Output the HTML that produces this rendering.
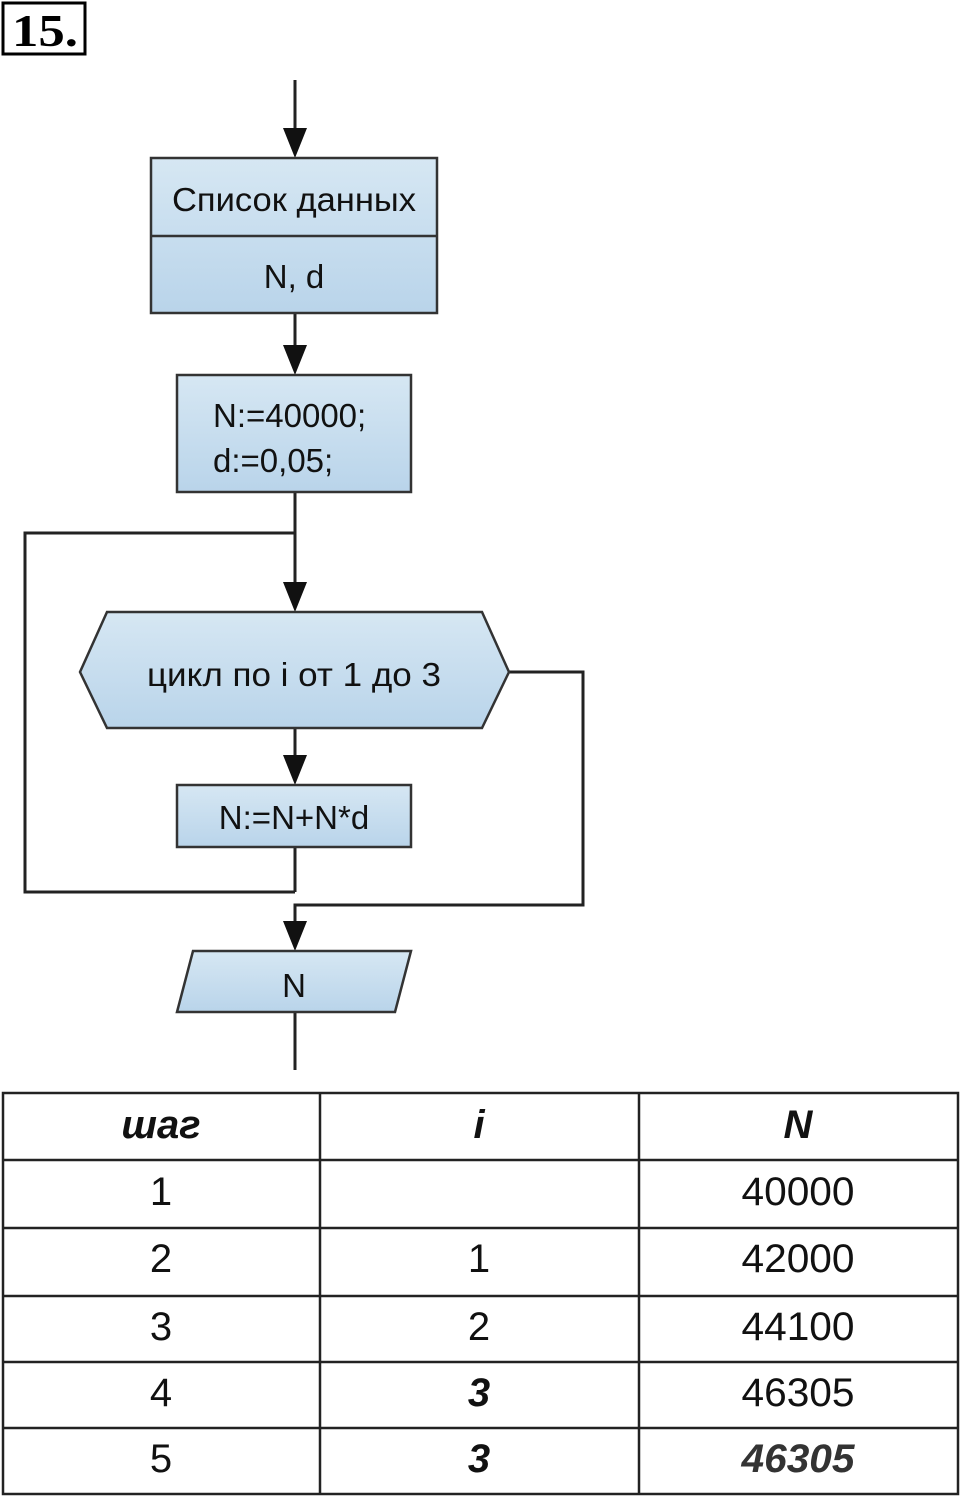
<!DOCTYPE html>
<html><head><meta charset="utf-8"><style>
html,body{margin:0;padding:0;background:#fff;width:960px;height:1496px;overflow:hidden}
svg{display:block}
</style></head><body>
<svg width="960" height="1496" viewBox="0 0 960 1496" xmlns="http://www.w3.org/2000/svg">
<defs>
<linearGradient id="g" x1="0" y1="0" x2="0" y2="1">
<stop offset="0" stop-color="#d6e7f3"/><stop offset="1" stop-color="#b9d4ea"/>
</linearGradient>
</defs>
<rect x="3" y="3" width="82" height="51" fill="#fff" stroke="#000" stroke-width="3"/>
<text x="12" y="46" font-family="Liberation Serif, serif" font-weight="bold" font-size="46" textLength="66" lengthAdjust="spacingAndGlyphs">15.</text>
<g stroke="#222" stroke-width="3" fill="none">
<line x1="295" y1="80" x2="295" y2="140"/>
<line x1="295" y1="313" x2="295" y2="357"/>
<line x1="295" y1="492" x2="295" y2="594"/>
<polyline points="295,892 25,892 25,533 295,533"/>
<polyline points="509,672 583,672 583,905 295,905 295,932"/>
<line x1="295" y1="728" x2="295" y2="767"/>
<line x1="295" y1="847" x2="295" y2="892"/>
<line x1="295" y1="1012" x2="295" y2="1070"/>
</g>
<g fill="#111">
<polygon points="283,128 307,128 295,158"/>
<polygon points="283,345 307,345 295,375"/>
<polygon points="283,582 307,582 295,612"/>
<polygon points="283,755 307,755 295,785"/>
<polygon points="283,921 307,921 295,951"/>
</g>
<g stroke="#333" stroke-width="2.5" fill="url(#g)">
<rect x="151" y="158" width="286" height="155"/>
<line x1="151" y1="236" x2="437" y2="236"/>
<rect x="177" y="375" width="234" height="117"/>
<polygon points="80,672 107,612 482,612 509,672 482,728 107,728"/>
<rect x="177" y="785" width="234" height="62"/>
<polygon points="193,951 411,951 395,1012 177,1012"/>
</g>
<g font-family="Liberation Sans, sans-serif" font-size="33" fill="#111">
<text x="294" y="211" text-anchor="middle" textLength="244" lengthAdjust="spacingAndGlyphs">Список данных</text>
<text x="294" y="288" text-anchor="middle">N, d</text>
<text x="213" y="427">N:=40000;</text>
<text x="213" y="472">d:=0,05;</text>
<text x="294" y="686" text-anchor="middle" textLength="294" lengthAdjust="spacingAndGlyphs">цикл по i от 1 до 3</text>
<text x="294" y="829" text-anchor="middle">N:=N+N*d</text>
<text x="294" y="997" text-anchor="middle">N</text>
</g>
<g stroke="#222" stroke-width="2.5" fill="none">
<rect x="3" y="1093" width="955" height="401"/>
<line x1="320" y1="1093" x2="320" y2="1494"/>
<line x1="639" y1="1093" x2="639" y2="1494"/>
<line x1="3" y1="1160" x2="958" y2="1160"/>
<line x1="3" y1="1228" x2="958" y2="1228"/>
<line x1="3" y1="1296" x2="958" y2="1296"/>
<line x1="3" y1="1362" x2="958" y2="1362"/>
<line x1="3" y1="1428" x2="958" y2="1428"/>
</g>
<g font-family="Liberation Sans, sans-serif" font-size="40" fill="#111" text-anchor="middle">
<text x="161" y="1138" font-style="italic" font-weight="bold">шаг</text>
<text x="479" y="1138" font-style="italic" font-weight="bold">i</text>
<text x="798" y="1138" font-style="italic" font-weight="bold">N</text>
<text x="161" y="1205">1</text>
<text x="798" y="1205" textLength="113" lengthAdjust="spacingAndGlyphs">40000</text>
<text x="161" y="1272">2</text>
<text x="479" y="1272">1</text>
<text x="798" y="1272" textLength="113" lengthAdjust="spacingAndGlyphs">42000</text>
<text x="161" y="1340">3</text>
<text x="479" y="1340">2</text>
<text x="798" y="1340" textLength="113" lengthAdjust="spacingAndGlyphs">44100</text>
<text x="161" y="1406">4</text>
<text x="479" y="1406" font-style="italic" font-weight="bold">3</text>
<text x="798" y="1406" textLength="113" lengthAdjust="spacingAndGlyphs">46305</text>
<text x="161" y="1472">5</text>
<text x="479" y="1472" font-style="italic" font-weight="bold">3</text>
<text x="798" y="1472" font-style="italic" font-weight="bold" fill="#333" textLength="113" lengthAdjust="spacingAndGlyphs">46305</text>
</g>
</svg>
</body></html>
